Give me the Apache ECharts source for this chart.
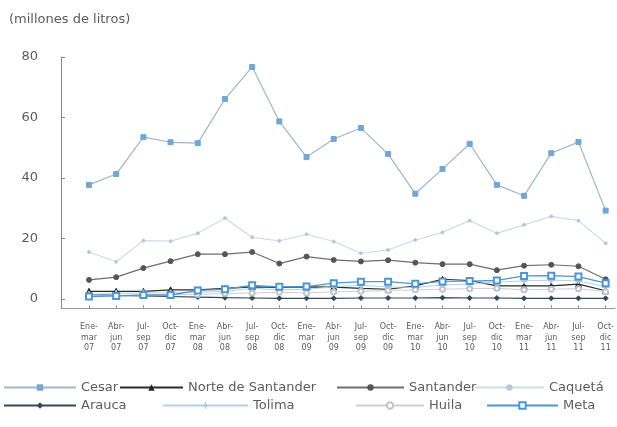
<!DOCTYPE html>
<html>
<head>
<meta charset="utf-8">
<script src="https://cdn.jsdelivr.net/npm/echarts@6/dist/echarts.min.js"></script>
<style>
  html, body { margin: 0; padding: 0; background: #fff; }
  #main { width: 617px; height: 427px; }
</style>
</head>
<body>
<div id="main"></div>
<script type="text/javascript">
// trimestres
var periods = ['Ene-\nmar\n07', 'Abr-\njun\n07', 'Jul-\nsep\n07', 'Oct-\ndic\n07',
               'Ene-\nmar\n08', 'Abr-\njun\n08', 'Jul-\nsep\n08', 'Oct-\ndic\n08',
               'Ene-\nmar\n09', 'Abr-\njun\n09', 'Jul-\nsep\n09', 'Oct-\ndic\n09',
               'Ene-\nmar\n10', 'Abr-\njun\n10', 'Jul-\nsep\n10', 'Oct-\ndic\n10',
               'Ene-\nmar\n11', 'Abr-\njun\n11', 'Jul-\nsep\n11', 'Oct-\ndic\n11'];

var cesar     = [37.7, 41.3, 53.5, 51.8, 51.5, 66.1, 76.7, 58.7, 46.9, 52.9, 56.5, 47.9, 34.8, 43.0, 51.3, 37.7, 34.1, 48.2, 51.9, 29.2];
var norte     = [2.5, 2.5, 2.5, 3.0, 3.0, 3.5, 4.0, 3.8, 4.0, 3.9, 3.5, 3.2, 4.3, 6.5, 6.1, 4.3, 4.3, 4.3, 4.9, 2.7];
var santander = [6.3, 7.2, 10.2, 12.5, 14.8, 14.8, 15.5, 11.7, 14.0, 12.9, 12.4, 12.8, 12.0, 11.5, 11.5, 9.5, 11.0, 11.3, 10.8, 6.5];
var caqueta   = [15.5, 12.3, 19.3, 19.1, 21.7, 26.7, 20.4, 19.2, 21.4, 19.0, 15.1, 16.2, 19.5, 22.0, 25.9, 21.7, 24.5, 27.3, 25.9, 18.4];
var arauca    = [1.5, 1.2, 1.0, 0.8, 0.6, 0.4, 0.3, 0.2, 0.2, 0.2, 0.3, 0.3, 0.3, 0.4, 0.3, 0.3, 0.2, 0.2, 0.2, 0.2];
var tolima    = [1.5, 1.8, 2.0, 2.0, 2.2, 2.5, 3.5, 3.0, 3.2, 4.0, 4.5, 4.0, 3.8, 4.6, 5.0, 5.5, 6.0, 6.2, 6.0, 4.0];
var huila     = [1.0, 1.0, 1.2, 1.4, 1.5, 1.8, 2.0, 2.2, 2.0, 2.3, 2.5, 2.8, 3.0, 3.2, 3.4, 3.5, 3.0, 3.2, 3.4, 2.4];
var meta      = [0.8, 1.0, 1.3, 1.3, 2.8, 3.2, 4.5, 4.0, 4.1, 5.2, 5.7, 5.7, 5.0, 5.8, 5.9, 6.1, 7.6, 7.7, 7.4, 5.2];

var yTicks = [0, 20, 40, 60, 80];

var font = 'DejaVu Sans, Arial, sans-serif';
var gray = '#5c5c5c';

function line(name, data, color, markColor, symbol, size, width) {
    return {
        name: name,
        type: 'line',
        xAxisIndex: 0,
        yAxisIndex: 0,
        data: data,
        symbol: symbol,
        symbolSize: size,
        showAllSymbol: true,
        lineStyle: { color: color, width: width },
        itemStyle: { color: markColor, borderColor: markColor },
        emphasis: { disabled: true },
        z: 3
    };
}

// una leyenda por elemento, para colocarlas como en el original
function legendAt(name, left, top, w) {
    return {
        data: [name],
        left: left,
        top: top,
        itemWidth: w,
        itemHeight: 8,
        padding: 0,
        selectedMode: false,
        textStyle: { fontFamily: font, fontSize: 13, color: gray }
    };
}

var myChart = echarts.init(document.getElementById('main'));
var option = {
    animation: false,
    title: {
        text: '(millones de litros)',
        left: 9,
        top: 13,
        padding: 0,
        textStyle: { fontFamily: font, fontSize: 13, fontWeight: 'normal', color: gray }
    },
    legend: [
        legendAt('Cesar', 3, 381, 72),
        legendAt('Norte de Santander', 119, 381, 63),
        legendAt('Santander', 336, 381, 67),
        legendAt('Caquetá', 474, 381, 69),
        legendAt('Arauca', 3, 399, 72),
        legendAt('Tolima', 162, 399, 85),
        legendAt('Huila', 355, 399, 68),
        legendAt('Meta', 486, 399, 71)
    ],
    grid: [
        { left: 89, right: 11, top: 57, bottom: 119 },
        { left: 61, right: 2, top: 57, bottom: 119 }
    ],
    xAxis: [{
        gridIndex: 0,
        type: 'category',
        boundaryGap: false,
        data: periods,
        axisLine: { show: false, onZero: false },
        axisTick: { show: true, inside: true, length: 3, alignWithLabel: true,
                    lineStyle: { color: '#999' } },
        axisLabel: { interval: 0, margin: 14, fontFamily: font, fontSize: 8,
                     lineHeight: 10.5, color: gray },
        splitLine: { show: false }
    }, {
        gridIndex: 1,
        type: 'value',
        min: 0,
        max: 1,
        axisLine: { show: true, onZero: false, lineStyle: { color: '#999', width: 1 } },
        axisTick: { show: false },
        axisLabel: { show: false },
        splitLine: { show: false }
    }],
    yAxis: [{
        gridIndex: 0,
        type: 'value',
        min: -3,
        max: 80,
        show: false,
        splitLine: { show: false }
    }, {
        gridIndex: 1,
        type: 'value',
        min: -3,
        max: 80,
        axisLine: { show: true, onZero: false, lineStyle: { color: '#888', width: 1 } },
        axisTick: { show: true, inside: true, length: 4, customValues: yTicks,
                    lineStyle: { color: '#888' } },
        axisLabel: { customValues: yTicks, margin: 23, fontFamily: font,
                     fontSize: 13, color: gray },
        splitLine: { show: false }
    }],
    series: [
        line('Cesar', cesar, '#a3b4c6', '#6fa7d6', 'rect', 5, 1.2),
        line('Norte de Santander', norte, '#2b2b2b', '#222', 'triangle', 6, 1.2),
        line('Santander', santander, '#6e6e6e', '#555', 'circle', 5, 1.2),
        line('Caquetá', caqueta, '#d2dbe4', '#b9c8d8', 'circle', 3, 1.2),
        line('Arauca', arauca, '#34475c', '#34475c', 'diamond', 5, 1.2),
        line('Tolima', tolima, '#b7d0e8', '#a6c4e2',
             'path://M4,0h2v4h4v2h-4v4h-2v-4h-4v-2h4z', 6, 1),
        line('Huila', huila, '#cfcfcf', '#c4c4c4', 'emptyCircle', 5, 1),
        line('Meta', meta, '#4d96d6', '#4d96d6', 'emptyRect', 6, 1.3)
    ]
};
myChart.setOption(option);
</script>
</body>
</html>
